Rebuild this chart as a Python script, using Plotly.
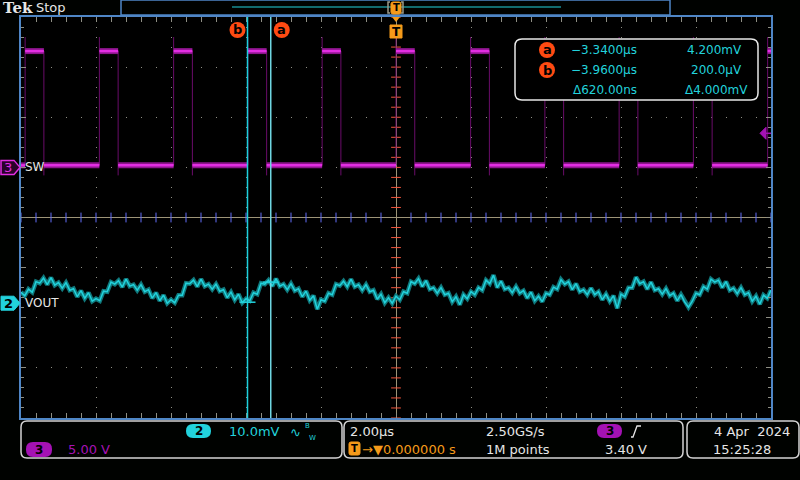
import plotly.graph_objects as go

# ---------------- data ----------------
time_window_us = [-10.0, 10.0]          # 2.00 µs/div, 10 divisions, trigger at centre
vout_dt_us = 0.1                         # spacing of the VOUT samples
vout_mV = [
    2.2, 1.5, 2.8, 2.2, 4.3, 4.0, 5.0, 3.7, 5.1, 3.6,
    4.1, 3.0, 4.1, 2.6, 2.9, 1.3, 2.5, 1.0, 2.1, 0.4,
    0.9, 0.5, 2.4, 2.3, 4.2, 3.8, 4.5, 3.2, 4.8, 3.4,
    3.7, 2.6, 3.7, 2.3, 2.7, 1.0, 2.1, 0.5, 1.6, 0.0,
    0.7, 0.1, 1.6, 1.6, 4.0, 3.9, 4.6, 3.3, 4.8, 3.4,
    3.8, 2.8, 3.8, 2.4, 2.7, 1.1, 2.2, 0.7, 1.8, 0.1,
    0.9, 0.5, 2.1, 1.8, 4.0, 3.8, 4.6, 3.4, 4.9, 3.4,
    3.8, 2.7, 3.9, 2.5, 2.9, 1.3, 2.4, 0.6, 1.5, -1.2,
    0.7, 0.4, 2.0, 1.7, 3.8, 3.5, 4.4, 3.3, 4.8, 3.3,
    3.7, 2.6, 3.7, 2.3, 2.6, 0.8, 1.8, 0.1, 1.1, 0.0,
    1.4, 0.7, 2.3, 2.0, 4.3, 3.9, 4.9, 3.3, 4.5, 2.8,
    3.1, 2.0, 3.1, 1.7, 2.0, 0.3, 1.3, -0.3, 1.7, 0.9,
    2.3, 1.7, 3.1, 2.6, 4.6, 3.9, 5.6, 3.1, 4.4, 2.8,
    3.1, 2.1, 3.3, 2.0, 2.5, 1.0, 2.2, 0.5, 1.4, 0.3,
    2.0, 1.7, 3.2, 2.8, 4.7, 3.8, 4.3, 2.7, 3.9, 2.3,
    2.7, 1.7, 3.0, 1.7, 2.3, 0.7, 1.8, 0.4, 1.5, -1.0,
    1.8, 1.3, 3.1, 3.1, 5.2, 3.9, 4.3, 2.8, 4.2, 2.6,
    2.9, 1.8, 2.9, 1.5, 2.0, 0.5, 1.7, 0.2, -0.8, 0.4,
    2.0, 1.7, 3.3, 2.8, 4.8, 4.2, 4.6, 3.1, 4.3, 2.6,
    3.0, 1.9, 3.1, 1.7, 2.1, 0.4, 1.4, -0.2, 1.6, 1.0,
    2.6,
]
sw_rise_us = [-9.89, -7.91, -5.93, -3.95, -1.97, 0.0, 1.99, 3.97, 5.95, 7.93, 9.91]
sw_fall_us = [-9.39, -7.41, -5.43, -3.45, -1.47, 0.50, 2.49, 4.47, 6.45, 8.43]
sw_high_V = 11.6
sw_low_V = 0.2
sw_overshoot_V = 13.0
sw_undershoot_V = -0.8

ch2_mV_per_div = 10.0
ch2_pos_div = -1.71
ch3_V_per_div = 5.0
ch3_pos_div = 1.0
trigger_level_V = 3.40
time_per_div_us = 2.0

cursor_a_us, cursor_b_us = -3.34, -3.96
cursor_a_mV, cursor_b_mV = 4.2, 0.2

# ---------------- styling ----------------
FONT = "DejaVu Sans"
BG = "#000200"
GRID = "#8e8e84"
CROSS = "#9d9478"
BORDER = "#4f86c6"
CYAN = "#22d2dc"
MAG = "#e22ee2"
MAG_DIM = "#8c148c"
PURPLE = "#a412b4"
ORANGE = "#f59a1a"
RED = "#ff4a12"
WHITE = "#e6e6e6"

PL, PR, PT, PB = 21, 771, 17, 418


def px(x):
    return (x - PL) / (PR - PL)


def py(y):
    return (PB - y) / (PB - PT)


def rrect(x0, y0, x1, y1, r):
    pts = [
        ("M", [(x0 + r, y0)]), ("L", [(x1 - r, y0)]), ("Q", [(x1, y0), (x1, y0 + r)]),
        ("L", [(x1, y1 - r)]), ("Q", [(x1, y1), (x1 - r, y1)]), ("L", [(x0 + r, y1)]),
        ("Q", [(x0, y1), (x0, y1 - r)]), ("L", [(x0, y0 + r)]), ("Q", [(x0, y0), (x0 + r, y0)]),
    ]
    s = ""
    for c, pp in pts:
        s += c + " " + " ".join(f"{px(a):.5f},{py(b):.5f}" for a, b in pp) + " "
    return s + "Z"


shapes = []
ann = []


def txt(x, y, s, color=WHITE, size=13, anchor="left", bold=False, family=FONT):
    ann.append(dict(x=px(x), y=py(y), xref="paper", yref="paper", text=f"<b>{s}</b>" if bold else s,
                    showarrow=False, xanchor=anchor, yanchor="middle",
                    font=dict(family=family, size=size, color=color)))


def box(x0, y0, x1, y1, r, line=None, fill=None, lw=1.5):
    shapes.append(dict(type="path", path=rrect(x0, y0, x1, y1, r), xref="paper", yref="paper",
                       line=dict(color=line or "rgba(0,0,0,0)", width=lw if line else 0),
                       fillcolor=fill or "rgba(0,0,0,0)", layer="above"))


fig = go.Figure()

# centre crosshair tick marks
tx = [k * 0.4 for k in range(-25, 26) if k != 0]
fig.add_trace(go.Scatter(x=tx, y=[0] * len(tx), mode="markers", hoverinfo="skip",
                         marker=dict(symbol="line-ns-open", size=7, line=dict(color=CROSS, width=1))))
ty = [k * 0.2 for k in range(-20, 21) if k != 0]
fig.add_trace(go.Scatter(x=[0] * len(ty), y=ty, mode="markers", hoverinfo="skip",
                         marker=dict(symbol="line-ew-open", size=7, line=dict(color=CROSS, width=1))))

# SW waveform (channel 3)
events = sorted([(t, "r") for t in sw_rise_us] + [(t, "f") for t in sw_fall_us])
lx, ly = [], []
cur_t, lvl = time_window_us[0], sw_low_V
for t, kind in events:
    lx += [cur_t, t, None]
    ly += [lvl, lvl, None]
    cur_t, lvl = t, (sw_high_V if kind == "r" else sw_low_V)
lx += [cur_t, time_window_us[1]]
ly += [lvl, lvl]
ex, ey = [], []
for t in sw_rise_us:
    ex += [t, t, None]
    ey += [sw_low_V, sw_overshoot_V, None]
for t in sw_fall_us:
    ex += [t, t, None]
    ey += [sw_high_V, sw_undershoot_V, None]
fig.add_trace(go.Scatter(x=ex, y=ey, yaxis="y3", mode="lines", hoverinfo="skip",
                         line=dict(color="#6a0c6a", width=1)))
fig.add_trace(go.Scatter(x=lx, y=ly, yaxis="y3", mode="lines", hoverinfo="skip",
                         line=dict(color=MAG_DIM, width=6)))
fig.add_trace(go.Scatter(x=lx, y=ly, yaxis="y3", mode="lines", hoverinfo="skip",
                         line=dict(color=MAG, width=2.5)))

# VOUT waveform (channel 2)
vout_t = [round(time_window_us[0] + i * vout_dt_us, 3) for i in range(len(vout_mV))]
fig.add_trace(go.Scatter(x=vout_t, y=vout_mV, yaxis="y2", mode="lines", hoverinfo="skip",
                         line=dict(color="#10787c", width=4.5)))
fig.add_trace(go.Scatter(x=vout_t, y=vout_mV, yaxis="y2", mode="lines", hoverinfo="skip",
                         line=dict(color=CYAN, width=1.5)))

# cursors
for t, col in [(cursor_b_us, "#1ccfdc"), (cursor_a_us, "#6fd6e2")]:
    shapes.append(dict(type="line", xref="x", yref="paper", x0=t, x1=t, y0=0, y1=1,
                       line=dict(color=col, width=1.5), layer="above"))
for t, v in [(cursor_b_us, cursor_b_mV), (cursor_a_us, cursor_a_mV)]:
    shapes.append(dict(type="line", xref="x", xsizemode="pixel", xanchor=t, x0=-8, x1=8,
                       yref="y2", y0=v, y1=v, line=dict(color=CYAN, width=1.5), layer="above"))
# cursor labels on top
for t, dx, lab in [(cursor_b_us, -10, "b"), (cursor_a_us, 11, "a")]:
    shapes.append(dict(type="circle", xref="x", xsizemode="pixel", xanchor=t, x0=dx - 8, x1=dx + 8,
                       yref="paper", ysizemode="pixel", yanchor=py(30), y0=-8, y1=8,
                       fillcolor=RED, line=dict(width=0), layer="above"))
    ann.append(dict(x=t, xref="x", xshift=dx, y=py(30), yref="paper", text=f"<b>{lab}</b>",
                    showarrow=False, xanchor="center", yanchor="middle",
                    font=dict(family=FONT, size=13, color="#000000")))

# trigger position marker "T"
shapes.append(dict(type="path", xref="x", xsizemode="pixel", xanchor=0.0, yref="paper",
                   path=f"M -6,{py(25)} L 6,{py(25)} L 6,{py(38)} L -6,{py(38)} Z",
                   fillcolor=ORANGE, line=dict(color=ORANGE, width=1), layer="above"))
shapes.append(dict(type="path", xref="x", xsizemode="pixel", xanchor=0.0, yref="paper",
                   path=f"M -4,{py(17)} L 4,{py(17)} L 0,{py(22)} Z",
                   fillcolor=ORANGE, line=dict(width=0), layer="above"))
ann.append(dict(x=0.0, xref="x", y=py(31.5), yref="paper", text="<b>T</b>", showarrow=False,
                xanchor="center", yanchor="middle", font=dict(family=FONT, size=12, color="#000")))

# trigger level marker on right edge (channel 3)
shapes.append(dict(type="path", xref="paper", yref="y3", ysizemode="pixel", yanchor=trigger_level_V,
                   path=f"M {px(760)},0 L {px(766)},6 L {px(766)},-6 Z",
                   fillcolor=PURPLE, line=dict(color=PURPLE, width=1), layer="above"))
shapes.append(dict(type="line", xref="paper", x0=px(766), x1=px(771), yref="y3",
                   y0=trigger_level_V, y1=trigger_level_V, line=dict(color=PURPLE, width=1.5), layer="above"))

# channel ground markers on the left
shapes.append(dict(type="path", xref="paper", yref="y3", ysizemode="pixel", yanchor=0,
                   path=f"M {px(1)},7 L {px(14)},7 L {px(20)},0 L {px(14)},-7 L {px(1)},-7 Z",
                   fillcolor="#2a022a", line=dict(color=MAG, width=1.5), layer="above"))
ann.append(dict(x=px(8), xref="paper", y=0, yref="y3", text="3", showarrow=False, xanchor="center",
                yanchor="middle", font=dict(family=FONT, size=13, color=MAG)))
ann.append(dict(x=px(23), xref="paper", y=0, yref="y3", text="SW", showarrow=False, xanchor="left",
                yanchor="middle", font=dict(family=FONT, size=12, color=WHITE)))
shapes.append(dict(type="path", xref="paper", yref="y2", ysizemode="pixel", yanchor=0,
                   path=f"M {px(1)},7 L {px(14)},7 L {px(20)},0 L {px(14)},-7 L {px(1)},-7 Z",
                   fillcolor=CYAN, line=dict(color=CYAN, width=1), layer="above"))
ann.append(dict(x=px(8), xref="paper", y=0, yref="y2", text="<b>2</b>", showarrow=False, xanchor="center",
                yanchor="middle", font=dict(family=FONT, size=13, color="#000")))
ann.append(dict(x=px(23), xref="paper", y=0, yref="y2", text="VOUT", showarrow=False, xanchor="left",
                yanchor="middle", font=dict(family=FONT, size=12, color=WHITE)))

# cursor readout box
box(515, 39, 758, 100, 7, line="#e8e8e8", fill="#000000")
delta_ns = (cursor_a_us - cursor_b_us) * 1000
delta_mV = cursor_a_mV - cursor_b_mV
rows = [
    ("a", f"\u2212{abs(cursor_a_us):.4f}\u00b5s", f"{cursor_a_mV:.3f}mV", 50),
    ("b", f"\u2212{abs(cursor_b_us):.4f}\u00b5s", f"{cursor_b_mV * 1000:.1f}\u00b5V", 70),
]
for lab, ts, vs, yy in rows:
    shapes.append(dict(type="circle", xref="paper", yref="paper", x0=px(539), x1=px(555),
                       y0=py(yy - 8), y1=py(yy + 8), fillcolor=RED, line=dict(width=0), layer="above"))
    txt(547, yy, lab, "#000", 13, "center", bold=True)
    txt(639, yy, ts, CYAN, 12, "right")
    txt(744, yy, vs, CYAN, 12, "right")
txt(639, 90, f"\u0394{delta_ns:.2f}ns", CYAN, 12, "right")
txt(750, 90, f"\u0394{delta_mV:.3f}mV", CYAN, 12, "right")

# top status / record view
txt(1, 8, "Tek", WHITE, 15, "left", bold=True, family="DejaVu Serif")
txt(34, 8, "Stop", WHITE, 13)
shapes.append(dict(type="rect", xref="paper", yref="paper", x0=px(121), x1=px(670), y0=py(0), y1=py(15),
                   line=dict(color=BORDER, width=1.5), fillcolor="rgba(0,0,0,0)", layer="above"))
shapes.append(dict(type="line", xref="paper", yref="paper", x0=px(232), x1=px(561), y0=py(7), y1=py(7),
                   line=dict(color=CYAN, width=1.2), layer="above"))
shapes.append(dict(type="path", xref="paper", yref="paper",
                   path=f"M {px(390)},{py(2)} L {px(388)},{py(2)} L {px(388)},{py(13)} L {px(390)},{py(13)}",
                   line=dict(color="#9a9a8a", width=1.5), layer="above"))
shapes.append(dict(type="path", xref="paper", yref="paper",
                   path=f"M {px(401)},{py(2)} L {px(403)},{py(2)} L {px(403)},{py(13)} L {px(401)},{py(13)}",
                   line=dict(color="#9a9a8a", width=1.5), layer="above"))
box(391, 2, 401, 14, 2, fill=ORANGE, line=ORANGE, lw=1)
txt(396, 8, "T", "#000", 10, "center", bold=True)

# bottom information panels
box(21, 421, 342, 458, 6, line="#d4d4d4")
box(344, 421, 683, 458, 6, line="#d4d4d4")
box(687, 421, 799, 458, 6, line="#d4d4d4")

box(186, 424, 211, 438, 7, fill=CYAN)
txt(198.5, 431, "2", "#000", 12, "center", bold=True)
txt(227, 431, f"{ch2_mV_per_div:.1f}mV", CYAN, 13)
txt(288, 432, "\u223f", CYAN, 13)
txt(303, 426, "B", CYAN, 7)
txt(307, 437.5, "W", CYAN, 7)

box(26, 442, 52, 457, 7, fill=PURPLE)
txt(39, 449.5, "3", "#000", 12, "center", bold=True)
txt(66, 449, f"{ch3_V_per_div:.2f} V", PURPLE, 13)

txt(348, 431, f"{time_per_div_us:.2f}\u00b5s", WHITE, 13)
box(349, 442, 360, 455, 2, fill=ORANGE, line=ORANGE, lw=1)
txt(354.5, 448.5, "T", "#000", 10, "center", bold=True)
txt(360, 449, "\u2192\u25bc0.000000 s", ORANGE, 13)
txt(484, 431, "2.50GS/s", WHITE, 13)
txt(484, 449, "1M points", WHITE, 13)
box(597, 424, 622, 438, 7, fill=PURPLE)
txt(609.5, 431, "3", "#000", 12, "center", bold=True)
shapes.append(dict(type="path", xref="paper", yref="paper",
                   path=f"M {px(631)},{py(437)} L {px(633)},{py(437)} L {px(637)},{py(426)} L {px(641)},{py(426)}",
                   line=dict(color=WHITE, width=1.3), layer="above"))
txt(603, 449, f"{trigger_level_V:.2f} V", WHITE, 13)
txt(792, 431, "4 Apr\u00a0\u00a02024", WHITE, 13, "right")
txt(711, 449, "15:25:28", WHITE, 13)

axis_common = dict(showticklabels=False, fixedrange=True, showline=True, linecolor=BORDER, linewidth=1.5,
                   mirror="allticks", ticks="inside", tickcolor=GRID, tickwidth=1, ticklen=5,
                   showgrid=True, gridcolor=GRID, gridwidth=1, zeroline=True, zerolinecolor=CROSS,
                   zerolinewidth=1)
fig.update_layout(
    width=800, height=480,
    margin=dict(l=PL, r=800 - PR, t=PT, b=480 - PB),
    paper_bgcolor=BG, plot_bgcolor="#000000",
    showlegend=False, hovermode=False,
    xaxis=dict(range=time_window_us, dtick=2, tick0=0, griddash="1px,9px",
               minor=dict(dtick=0.4, ticks="inside", ticklen=3, tickcolor=GRID, showgrid=False),
               **axis_common),
    yaxis=dict(range=[-4, 4], dtick=1, tick0=0, griddash="1px,14px",
               minor=dict(dtick=0.2, ticks="inside", ticklen=3, tickcolor=GRID, showgrid=False),
               **axis_common),
    yaxis2=dict(range=[(-4 - ch2_pos_div) * ch2_mV_per_div, (4 - ch2_pos_div) * ch2_mV_per_div],
                overlaying="y", anchor="x", visible=False, fixedrange=True),
    yaxis3=dict(range=[(-4 - ch3_pos_div) * ch3_V_per_div, (4 - ch3_pos_div) * ch3_V_per_div],
                overlaying="y", anchor="x", visible=False, fixedrange=True),
    shapes=shapes, annotations=ann,
)
fig.write_html(
    "out.html",
    config={"displayModeBar": False},
    post_script="document.body.style.margin='0';document.body.style.padding='0';"
                "document.body.style.background='#000200';document.body.style.overflow='hidden';",
)
